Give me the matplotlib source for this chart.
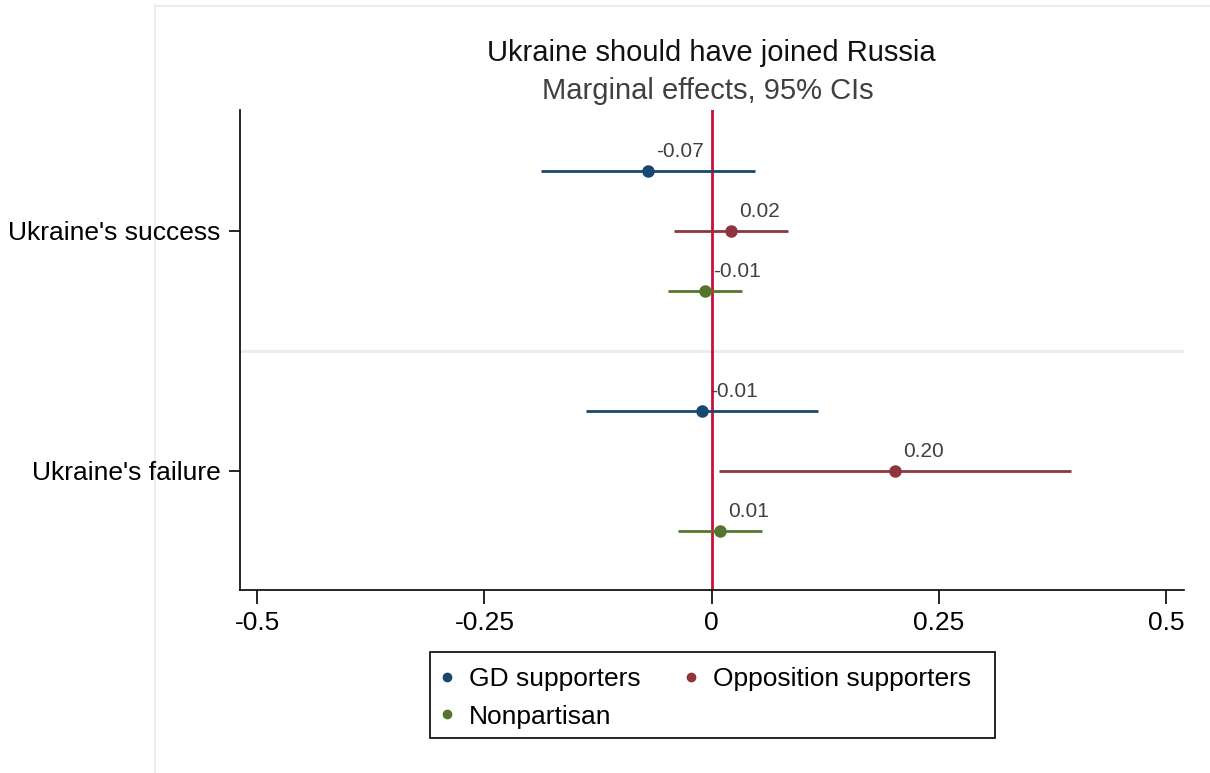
import matplotlib
matplotlib.use("Agg")
import matplotlib.pyplot as plt
from matplotlib.lines import Line2D
from matplotlib.patches import Rectangle

plt.rcParams['font.family'] = ['Liberation Sans', 'DejaVu Sans']

# Data: marginal effects with 95% confidence intervals
outcomes = ["Ukraine's success", "Ukraine's failure"]
groups = ["GD supporters", "Opposition supporters", "Nonpartisan"]
colors = ["#1a476f", "#90353b", "#55752f"]

effects = {
    "GD supporters":         [-0.070, -0.011],
    "Opposition supporters": [0.021, 0.202],
    "Nonpartisan":           [-0.007, 0.009],
}
ci_low = {
    "GD supporters":         [-0.188, -0.138],
    "Opposition supporters": [-0.041, 0.008],
    "Nonpartisan":           [-0.048, -0.037],
}
ci_high = {
    "GD supporters":         [0.048, 0.117],
    "Opposition supporters": [0.084, 0.396],
    "Nonpartisan":           [0.034, 0.055],
}
xticks = [-0.5, -0.25, 0, 0.25, 0.5]
xticklabels = ["-0.5", "-0.25", "0", "0.25", "0.5"]

fig = plt.figure(figsize=(12.1, 7.73), dpi=100)
W, H = 1210, 773

# outer frame lines of the graph region
fig.add_artist(Line2D([155 / W, 155 / W], [0, 1 - 6 / H], color="#e6eef0", lw=1.5, zorder=0))
fig.add_artist(Line2D([155 / W, 1], [1 - 6 / H, 1 - 6 / H], color="#e6eef0", lw=1.5, zorder=0))

ax = fig.add_axes([240 / W, 1 - 590 / H, (1184 - 240) / W, (590 - 110) / H])
ax.patch.set_alpha(0)

offsets = [-0.25, 0.0, 0.25]
centers = [1, 2]
for g, col, off in zip(groups, colors, offsets):
    for i, c in enumerate(centers):
        y = c + off
        ax.plot([ci_low[g][i], ci_high[g][i]], [y, y], color=col, lw=2, solid_capstyle="butt", zorder=3)
        ax.plot(effects[g][i], y, "o", color=col, ms=8, zorder=4)
        ax.annotate(f"{effects[g][i]:.2f}", (effects[g][i], y), xytext=(6, 7),
                    textcoords="offset points", ha="left", va="bottom",
                    fontsize=15, color="#404040", zorder=5)

ax.axvline(0, color="#c8103e", lw=2, zorder=2)
ax.axhline(1.5, color="#e6eef0", lw=2, zorder=1)

ax.set_xlim(-0.519, 0.520)
ax.set_ylim(2.496, 0.496)
ax.set_xticks(xticks)
ax.set_xticklabels(xticklabels, fontsize=19)
ax.set_yticks(centers)
ax.set_yticklabels(outcomes, fontsize=19)
ax.tick_params(axis="x", length=10, width=1.2, pad=5)
ax.tick_params(axis="y", length=8, width=1.2, pad=6)
for s in ["top", "right"]:
    ax.spines[s].set_visible(False)
for s in ["left", "bottom"]:
    ax.spines[s].set_linewidth(1.2)

fig.text(711 / W, 1 - 53 / H, "Ukraine should have joined Russia", ha="center", va="center",
         fontsize=21, color="#111111")
fig.text(708 / W, 1 - 91 / H, "Marginal effects, 95% CIs", ha="center", va="center",
         fontsize=21, color="#404040")

# legend frame drawn separately so its padding can be set exactly
fig.add_artist(Rectangle((430 / W, 1 - 738 / H), (995 - 430) / W, (738 - 652) / H,
                         transform=fig.transFigure, facecolor="white",
                         edgecolor="black", lw=1.2, zorder=5))

# legend rows: GD / Opposition on the first row, Nonpartisan on the second
order = [0, 2, 1]
handles = [Line2D([], [], marker="o", ls="none", color=colors[k], ms=6) for k in order]
labels = [groups[k] for k in order]
leg = fig.legend(handles, labels, ncol=2, loc="center left",
                 bbox_to_anchor=(430 / W, 1 - 698 / H), fontsize=19,
                 frameon=False, borderaxespad=0,
                 handletextpad=0.58, columnspacing=1.65, borderpad=0.4,
                 labelspacing=0.5, handlelength=0.5)
leg.set_zorder(6)

fig.savefig("out.png", dpi=100, facecolor="white")
